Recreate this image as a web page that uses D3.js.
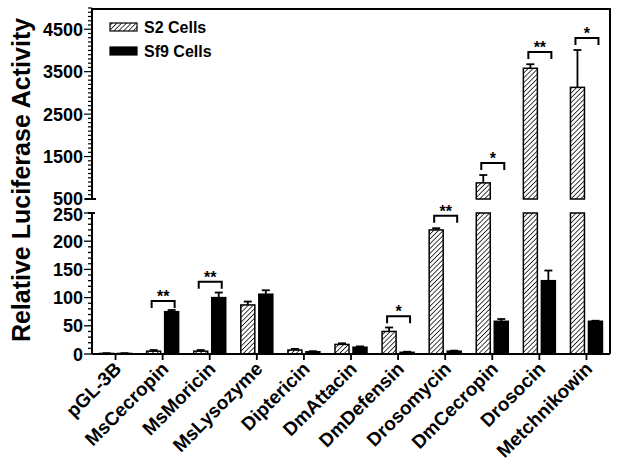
<!DOCTYPE html>
<html><head><meta charset="utf-8">
<script src="https://cdn.jsdelivr.net/npm/d3@7"></script>
<style>body{margin:0;background:#fff}svg{display:block}text{font-family:"Liberation Sans",Arial,sans-serif;font-weight:bold}</style>
</head><body><svg id="c" width="619" height="465"></svg>
<script>
const categories = ["pGL-3B","MsCecropin","MsMoricin","MsLysozyme","Diptericin","DmAttacin","DmDefensin","Drosomycin","DmCecropin","Drosocin","Metchnikowin"];
const s2Values = [1, 5, 5, 87, 7, 17, 40, 220, 880, 3580, 3130];
const s2Errors = [0.5, 2, 2, 6, 2, 2, 7, 3, 185, 95, 880];
const sf9Values = [1, 75, 100, 106, 4, 12, 3, 5, 58, 130, 58];
const sf9Errors = [0.5, 3, 9, 7, 1, 1.5, 1, 1, 4, 18, 1];
const seriesNames = ["S2 Cells", "Sf9 Cells"];
const lowTicks = [0, 50, 100, 150, 200, 250];
const highTicks = [500, 1500, 2500, 3500, 4500];
const sigCats = ["MsCecropin","MsMoricin","DmDefensin","Drosomycin","DmCecropin","Drosocin","Metchnikowin"];
const sigLabels = ["**","**","*","**","*","**","*"];
const sigLevels = [94, 128, 67, 245, 1348, 3964, 4294];

const svg = d3.select("#c");
const defs = svg.append("defs");
const pat = defs.append("pattern").attr("id","hatch").attr("patternUnits","userSpaceOnUse")
  .attr("width",3.4).attr("height",3.4).attr("patternTransform","rotate(45)");
pat.append("rect").attr("width",3.4).attr("height",3.4).attr("fill","#fff");
pat.append("line").attr("x1",0).attr("y1",0).attr("x2",0).attr("y2",3.4).attr("stroke","#000").attr("stroke-width",1.5);

const L = 92, R = 610;
const x = d3.scaleBand().domain(categories).range([L, R]).paddingInner(0).paddingOuter(0);
const yLow = d3.scaleLinear().domain([0, 250]).range([354, 213]);
const yHigh = d3.scaleLinear().domain([500, 5000]).range([199, 8]);
const yv = v => v <= 250 ? yLow(v) : (v < 500 ? yLow(250) : yHigh(v));
const bw = 14, gap = 2;

// frame
svg.append("line").attr("x1",L).attr("x2",R).attr("y1",yHigh(5000)+1).attr("y2",yHigh(5000)+1).attr("stroke","#000").attr("stroke-width",2.2);
svg.append("line").attr("x1",R).attr("x2",R).attr("y1",yHigh(5000)).attr("y2",yLow(0)).attr("stroke","#000").attr("stroke-width",2);

const series = [
  {name: seriesNames[0], vals: s2Values, errs: s2Errors, fill: "url(#hatch)", off: -gap - bw},
  {name: seriesNames[1], vals: sf9Values, errs: sf9Errors, fill: "#000", off: gap}
];
const cx = c => x(c) + x.bandwidth()/2;

series.forEach(s => {
  const g = svg.append("g");
  categories.forEach((c, i) => {
    const v = s.vals[i], e = s.errs[i];
    const x0 = cx(c) + s.off;
    const topLow = yLow(Math.min(v, 250));
    g.append("rect").attr("x", x0).attr("y", topLow).attr("width", bw).attr("height", yLow(0) - topLow)
      .attr("fill", s.fill).attr("stroke","#000").attr("stroke-width",1.5);
    if (v > 500) {
      const topHigh = yHigh(v);
      g.append("rect").attr("x", x0).attr("y", topHigh).attr("width", bw).attr("height", yHigh(500) - topHigh)
        .attr("fill", s.fill).attr("stroke","#000").attr("stroke-width",1.5);
    }
    const ex = x0 + bw/2;
    const yTop = yv(v + e);
    g.append("line").attr("x1",ex).attr("x2",ex).attr("y1",yv(v)).attr("y2",yTop).attr("stroke","#000").attr("stroke-width",1.8);
    g.append("line").attr("x1",ex-4).attr("x2",ex+4).attr("y1",yTop).attr("y2",yTop).attr("stroke","#000").attr("stroke-width",1.8);
  });
});

// left axes
const axLow = svg.append("g").attr("transform",`translate(${L},0)`);
axLow.append("line").attr("x1",0).attr("x2",0).attr("y1",yLow(250)).attr("y2",yLow(0)).attr("stroke","#000").attr("stroke-width",2);
d3.range(0, 251, 10).forEach(v => {
  const major = v % 50 === 0;
  axLow.append("line").attr("x1", major ? -8 : -4).attr("x2", 0).attr("y1", yLow(v)).attr("y2", yLow(v)).attr("stroke","#000").attr("stroke-width",1.3);
});
axLow.append("line").attr("x1",-4).attr("x2",3).attr("y1",yLow(250)).attr("y2",yLow(250)).attr("stroke","#000").attr("stroke-width",2);
lowTicks.forEach(v => {
  axLow.append("text").attr("x",-9).attr("y",yLow(v)+6.5 + (v===250?1:0)).attr("text-anchor","end").attr("font-size",18).text(v);
});
const axHigh = svg.append("g").attr("transform",`translate(${L},0)`);
axHigh.append("line").attr("x1",0).attr("x2",0).attr("y1",yHigh(500)).attr("y2",yHigh(5000)).attr("stroke","#000").attr("stroke-width",2);
d3.range(500, 5001, 100).forEach(v => {
  const major = highTicks.includes(v);
  axHigh.append("line").attr("x1", major ? -8 : -4).attr("x2", 0).attr("y1", yHigh(v)).attr("y2", yHigh(v)).attr("stroke","#000").attr("stroke-width",1.2);
});
axHigh.append("line").attr("x1",-7).attr("x2",4).attr("y1",yHigh(500)).attr("y2",yHigh(500)).attr("stroke","#000").attr("stroke-width",2);
highTicks.forEach(v => {
  axHigh.append("text").attr("x",-9).attr("y",yHigh(v)+6.5 - (v===500?1:0)).attr("text-anchor","end").attr("font-size",18).text(v);
});

// x axis
const xa = svg.append("g").attr("transform",`translate(0,${yLow(0)})`);
xa.append("line").attr("x1",L).attr("x2",R).attr("y1",0).attr("y2",0).attr("stroke","#000").attr("stroke-width",2);
categories.forEach(c => {
  xa.append("line").attr("x1",cx(c)).attr("x2",cx(c)).attr("y1",0).attr("y2",6).attr("stroke","#000").attr("stroke-width",1.8);
  xa.append("text").attr("transform",`translate(${cx(c)+7},${16}) rotate(-45)`).attr("text-anchor","end").attr("font-size",19).text(c);
});

// y title
svg.append("text").attr("transform",`translate(30,180) rotate(-90)`).attr("text-anchor","middle").attr("font-size",25).text("Relative Luciferase Activity");

// significance
sigCats.forEach((c, i) => {
  const by = yv(sigLevels[i]);
  const x1 = cx(c) - 11, x2 = cx(c) + 12;
  svg.append("path").attr("d",`M${x1},${by+7}V${by}H${x2}V${by+7}`).attr("fill","none").attr("stroke","#000").attr("stroke-width",2);
  svg.append("text").attr("x",(x1+x2)/2).attr("y",by+1).attr("text-anchor","middle").attr("font-size",16).text(sigLabels[i]);
});

// legend
const lg = svg.append("g");
series.forEach((s, i) => {
  const yy = 23 + i*24;
  lg.append("rect").attr("x",110).attr("y",yy).attr("width",27).attr("height",8).attr("fill",s.fill).attr("stroke","#000").attr("stroke-width",1.2);
  lg.append("text").attr("x",144).attr("y",yy+10).attr("font-size",16).text(s.name);
});
</script></body></html>
